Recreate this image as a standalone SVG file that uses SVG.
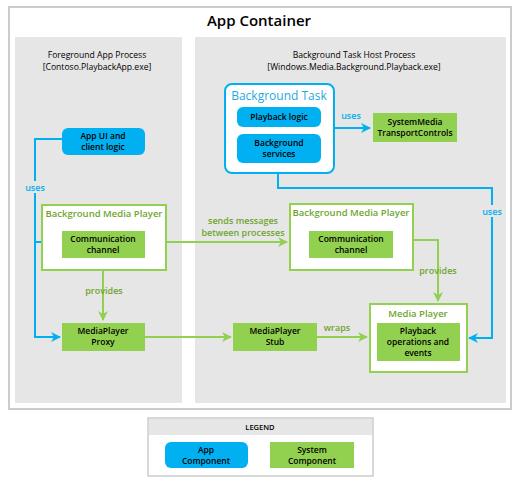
<svg xmlns="http://www.w3.org/2000/svg" width="518" height="484" viewBox="0 0 518 484">
<defs>
<style>
text{font-family:"Open Sans","Noto Sans","Liberation Sans",sans-serif;text-anchor:middle}
.panel{fill:#e6e6e6}
.app{fill:#00b0f0}
.sys{fill:#92d050}
.nt{font-size:8.5px;font-weight:600;fill:#000}
.pt{font-size:8.6px;fill:#000}
.gt{font-size:9.5px;font-weight:600;fill:#6fa52f}
.bt{font-size:9px;font-weight:600;fill:#00b0f0}
.gbox{fill:#fff;stroke:#92d050;stroke-width:2}
.bl{fill:none;stroke:#00b0f0;stroke-width:2}
.gl{fill:none;stroke:#92d050;stroke-width:2}
</style>
<marker id="ab" viewBox="0 0 10 10" refX="9" refY="5" markerWidth="5" markerHeight="5" orient="auto" markerUnits="strokeWidth"><path d="M0,0 L10,5 L0,10 L3,5 z" fill="#00b0f0"/></marker>
<marker id="ag" viewBox="0 0 10 10" refX="9" refY="5" markerWidth="5" markerHeight="5" orient="auto" markerUnits="strokeWidth"><path d="M0,0 L10,5 L0,10 L3,5 z" fill="#92d050"/></marker>
</defs>
<rect width="518" height="484" fill="#fff"/>
<g id="container">
<rect x="9" y="7" width="502" height="402" fill="#fff" stroke="#cccccc" stroke-width="2"/>
<text x="259" y="26" style="font-size:15px;font-weight:600" fill="#000">App Container</text>
</g>
<g id="fg-process">
<rect class="panel" x="15" y="37" width="167" height="366"/>
<text class="pt" x="97" y="58">Foreground App Process</text>
<text class="pt" x="97" y="70">[Contoso.PlaybackApp.exe]</text>
</g>
<g id="bg-process">
<rect class="panel" x="195" y="37" width="311" height="366"/>
<text class="pt" x="354" y="58">Background Task Host Process</text>
<text class="pt" x="354" y="70">[Windows.Media.Background.Playback.exe]</text>
</g>
<g id="connectors">
<polyline class="bl" points="62,139 35,139 35,337 60,337" marker-end="url(#ab)"/>
<polyline class="bl" points="35,242 60,242" marker-end="url(#ab)"/>
<polyline class="bl" points="334,128 370,128" marker-end="url(#ab)"/>
<polyline class="bl" points="278,173 278,188 492,188 492,338 469,338" marker-end="url(#ab)"/>
<polyline class="gl" points="103,270 103,320" marker-end="url(#ag)"/>
<polyline class="gl" points="166,242 287,242" marker-end="url(#ag)"/>
<polyline class="gl" points="145,337 231,337" marker-end="url(#ag)"/>
<polyline class="gl" points="317,337 367,337" marker-end="url(#ag)"/>
<polyline class="gl" points="413,240 438,240 438,301" marker-end="url(#ag)"/>
<rect x="22" y="181" width="26" height="12" class="panel"/>
<text class="bt" x="35" y="191">uses</text>
<text class="bt" x="351" y="119">uses</text>
<rect x="479" y="205" width="26" height="12" class="panel"/>
<text class="bt" x="492" y="215">uses</text>
<text class="gt" x="104" y="294" style="font-size:9px">provides</text>
<text class="gt" x="243" y="224" style="font-size:9px">sends messages</text>
<text class="gt" x="243" y="236" style="font-size:9px">between processes</text>
<text class="gt" x="438" y="274" style="font-size:9px">provides</text>
<text class="gt" x="337" y="331" style="font-size:9px">wraps</text>
</g>
<g id="app-ui">
<rect class="app" x="62" y="128" width="83" height="27" rx="6"/>
<text class="nt" x="103" y="139">App UI and</text>
<text class="nt" x="103" y="150">client logic</text>
</g>
<g id="bg-media-player-fg">
<rect class="gbox" x="42" y="205" width="124" height="65"/>
<text class="gt" x="104" y="217">Background Media Player</text>
</g>
<g id="comm-channel-fg">
<rect class="sys" x="62" y="231" width="83" height="27"/>
<text class="nt" x="103" y="242">Communication</text>
<text class="nt" x="103" y="253">channel</text>
</g>
<g id="mediaplayer-proxy">
<rect class="sys" x="62" y="323" width="83" height="28"/>
<text class="nt" x="103" y="334">MediaPlayer</text>
<text class="nt" x="103" y="345">Proxy</text>
</g>
<g id="background-task">
<rect x="225" y="84" width="109" height="89" rx="7" fill="#fff" stroke="#00b0f0" stroke-width="2"/>
<text x="279" y="100" style="font-size:12px" fill="#1fa9e1">Background Task</text>
</g>
<g id="playback-logic">
<rect class="app" x="237" y="107" width="84" height="20" rx="6"/>
<text class="nt" x="279" y="120">Playback logic</text>
</g>
<g id="background-services">
<rect class="app" x="237" y="134" width="84" height="29" rx="6"/>
<text class="nt" x="279" y="146">Background</text>
<text class="nt" x="279" y="157">services</text>
</g>
<g id="smtc">
<rect class="sys" x="373" y="113" width="84" height="29"/>
<text class="nt" x="415" y="125">SystemMedia</text>
<text class="nt" x="415" y="136">TransportControls</text>
</g>
<g id="bg-media-player-bg">
<rect class="gbox" x="290" y="204" width="123" height="66"/>
<text class="gt" x="351" y="216">Background Media Player</text>
</g>
<g id="comm-channel-bg">
<rect class="sys" x="309" y="231" width="84" height="27"/>
<text class="nt" x="351" y="242">Communication</text>
<text class="nt" x="351" y="253">channel</text>
</g>
<g id="mediaplayer-stub">
<rect class="sys" x="233" y="323" width="84" height="28"/>
<text class="nt" x="275" y="334">MediaPlayer</text>
<text class="nt" x="275" y="345">Stub</text>
</g>
<g id="media-player">
<rect class="gbox" x="370" y="304" width="97" height="68"/>
<text class="gt" x="418" y="317">Media Player</text>
</g>
<g id="playback-ops">
<rect class="sys" x="377" y="323" width="83" height="38"/>
<text class="nt" x="418" y="334">Playback</text>
<text class="nt" x="418" y="345">operations and</text>
<text class="nt" x="418" y="356">events</text>
</g>
<g id="legend">
<rect x="148" y="418" width="225" height="58" fill="#fff" stroke="#cccccc" stroke-width="1.5"/>
<rect x="149" y="419" width="223" height="16" fill="#e6e6e6"/>
<text x="260" y="430" style="font-size:7.5px;font-weight:600" fill="#000">LEGEND</text>
<rect class="app" x="165" y="442" width="83" height="26" rx="6"/>
<text class="nt" x="206" y="453">App</text>
<text class="nt" x="206" y="464">Component</text>
<rect class="sys" x="270" y="442" width="84" height="26"/>
<text class="nt" x="312" y="453">System</text>
<text class="nt" x="312" y="464">Component</text>
</g>
</svg>
